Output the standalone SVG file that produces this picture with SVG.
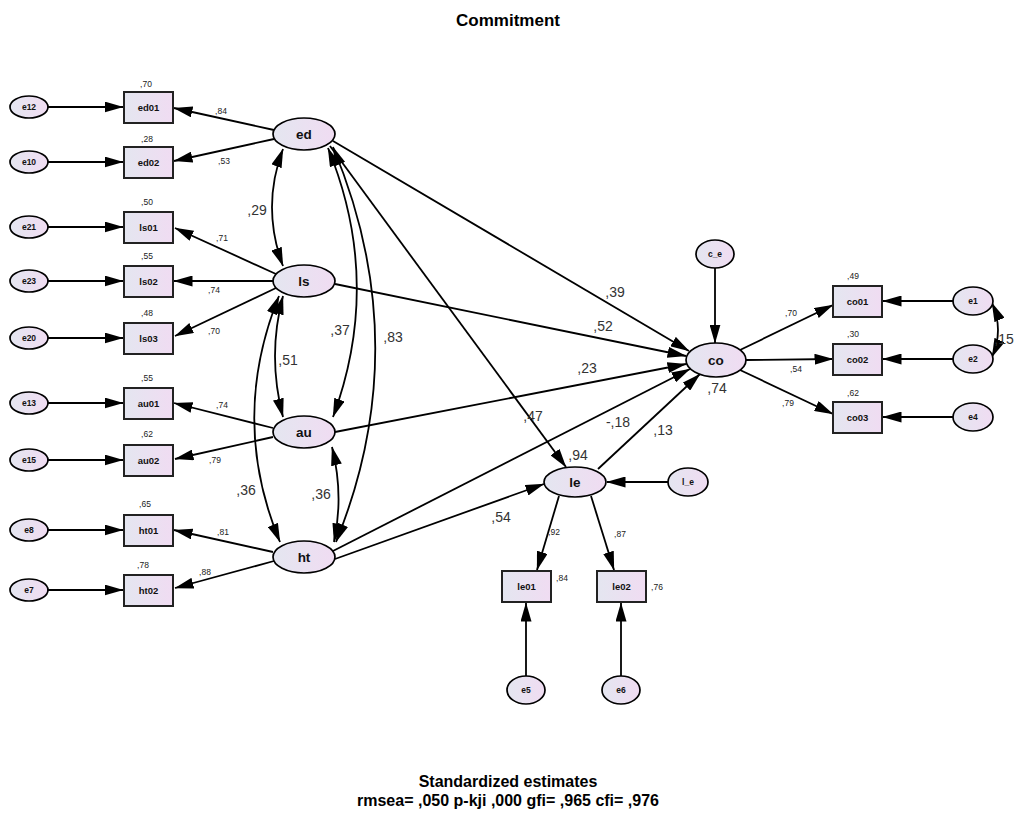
<svg xmlns="http://www.w3.org/2000/svg" width="1016" height="819" viewBox="0 0 1016 819">
<defs>
<linearGradient id="g" x1="0" y1="0" x2="1" y2="0">
<stop offset="0" stop-color="#e4e6f0"/>
<stop offset="1" stop-color="#f0dcf2"/>
</linearGradient>
<marker id="a" markerUnits="userSpaceOnUse" markerWidth="19" markerHeight="11" refX="18.5" refY="5.5" orient="auto-start-reverse">
<path d="M0,0 L19,5.5 L0,11 z" fill="#000"/>
</marker>
<style>
.n ellipse{fill:url(#g);stroke:#000;stroke-width:1.7}
.n rect{fill:url(#g);stroke:#222;stroke-width:2}
.n text{font-family:"Liberation Sans",Arial,sans-serif;font-weight:bold;text-anchor:middle;fill:#111}
.e text{font-size:8.5px}
.b text{font-size:9.5px}
.l text{font-size:13.5px}
#conn path,#conn line{fill:none;stroke:#000;stroke-width:1.8;marker-end:url(#a)}
#conn .d{marker-start:url(#a)}
.s{font-family:"Liberation Sans",Arial,sans-serif;font-size:8.5px;fill:#222;text-anchor:middle}
.p{font-family:"Liberation Sans",Arial,sans-serif;font-size:14px;fill:#333;text-anchor:middle}
.t{font-family:"Liberation Sans",Arial,sans-serif;font-weight:bold;text-anchor:middle;fill:#000}
</style>
</defs>
<rect width="1016" height="819" fill="#fff"/>
<text class="t" x="508" y="26" font-size="17">Commitment</text>
<text class="t" x="508" y="787" font-size="16">Standardized estimates</text>
<text class="t" x="508" y="806" font-size="16">rmsea= ,050 p-kji ,000 gfi= ,965 cfi= ,976</text>

<g id="conn">
<line x1="48" y1="107" x2="123" y2="107"/>
<line x1="48" y1="162" x2="123" y2="162"/>
<line x1="48" y1="227" x2="123" y2="227"/>
<line x1="48" y1="281" x2="123" y2="281"/>
<line x1="48" y1="338" x2="123" y2="338"/>
<line x1="48" y1="403" x2="123" y2="403"/>
<line x1="48" y1="460" x2="123" y2="460"/>
<line x1="48" y1="530" x2="123" y2="530"/>
<line x1="48" y1="590" x2="123" y2="590"/>
<line x1="274" y1="130" x2="174" y2="108"/>
<line x1="274" y1="139" x2="174" y2="161"/>
<line x1="276" y1="274" x2="175" y2="228"/>
<line x1="273" y1="281" x2="174" y2="281"/>
<line x1="276" y1="288" x2="175" y2="336"/>
<line x1="273" y1="428" x2="174" y2="403"/>
<line x1="273" y1="437" x2="175" y2="459"/>
<line x1="273" y1="552" x2="174" y2="530"/>
<line x1="274" y1="561" x2="175" y2="588"/>
<path class="d" d="M283,149 Q261,207 283,266"/>
<path class="d" d="M283,296 Q267,356 283,417"/>
<path class="d" d="M279,296 Q229,420 280,542"/>
<path class="d" d="M332,447 Q344,495 334,542"/>
<path class="d" d="M328,148 Q383,282 333,417"/>
<path class="d" d="M333,147 Q416,345 336,542"/>
<line x1="333" y1="141" x2="689" y2="351"/>
<line x1="335" y1="284" x2="686" y2="356"/>
<line x1="335" y1="432" x2="686" y2="364"/>
<line x1="331" y1="552" x2="690" y2="369"/>
<line x1="598" y1="469" x2="700" y2="374"/>
<line x1="330" y1="146" x2="566" y2="467"/>
<line x1="335" y1="559" x2="544" y2="484"/>
<line x1="715" y1="268" x2="715" y2="343"/>
<line x1="668" y1="482" x2="607" y2="482"/>
<line x1="740" y1="350" x2="833" y2="305"/>
<line x1="746" y1="360" x2="833" y2="359"/>
<line x1="740" y1="370" x2="833" y2="414"/>
<line x1="953" y1="301" x2="883" y2="301"/>
<line x1="953" y1="359" x2="883" y2="359"/>
<line x1="953" y1="417" x2="883" y2="417"/>
<path class="d" d="M992,303 Q1004,330 992,357"/>
<line x1="559" y1="496" x2="537" y2="570"/>
<line x1="591" y1="496" x2="614" y2="570"/>
<line x1="526" y1="676" x2="526" y2="603"/>
<line x1="621" y1="676" x2="621" y2="603"/>
</g>

<g id="e12" class="n e"><ellipse cx="29" cy="107" rx="19" ry="11"/><text x="29" y="110">e12</text></g>
<g id="e10" class="n e"><ellipse cx="29" cy="162" rx="19" ry="11"/><text x="29" y="165">e10</text></g>
<g id="e21" class="n e"><ellipse cx="29" cy="227" rx="19" ry="11"/><text x="29" y="230">e21</text></g>
<g id="e23" class="n e"><ellipse cx="29" cy="281" rx="19" ry="11"/><text x="29" y="284">e23</text></g>
<g id="e20" class="n e"><ellipse cx="29" cy="338" rx="19" ry="11"/><text x="29" y="341">e20</text></g>
<g id="e13" class="n e"><ellipse cx="29" cy="403" rx="19" ry="11"/><text x="29" y="406">e13</text></g>
<g id="e15" class="n e"><ellipse cx="29" cy="460" rx="19" ry="11"/><text x="29" y="463">e15</text></g>
<g id="e8" class="n e"><ellipse cx="29" cy="530" rx="19" ry="11"/><text x="29" y="533">e8</text></g>
<g id="e7" class="n e"><ellipse cx="29" cy="590" rx="19" ry="11"/><text x="29" y="593">e7</text></g>

<g id="ed01" class="n b"><rect x="124" y="92" width="49" height="31"/><text x="148.5" y="110.5">ed01</text></g>
<g id="ed02" class="n b"><rect x="124" y="147" width="49" height="31"/><text x="148.5" y="165.5">ed02</text></g>
<g id="ls01" class="n b"><rect x="124" y="212" width="49" height="31"/><text x="148.5" y="230.5">ls01</text></g>
<g id="ls02" class="n b"><rect x="124" y="266" width="49" height="31"/><text x="148.5" y="284.5">ls02</text></g>
<g id="ls03" class="n b"><rect x="124" y="323" width="49" height="31"/><text x="148.5" y="341.5">ls03</text></g>
<g id="au01" class="n b"><rect x="124" y="388" width="49" height="31"/><text x="148.5" y="406.5">au01</text></g>
<g id="au02" class="n b"><rect x="124" y="445" width="49" height="31"/><text x="148.5" y="463.5">au02</text></g>
<g id="ht01" class="n b"><rect x="124" y="515" width="49" height="31"/><text x="148.5" y="533.5">ht01</text></g>
<g id="ht02" class="n b"><rect x="124" y="575" width="49" height="31"/><text x="148.5" y="593.5">ht02</text></g>

<g id="ed" class="n l"><ellipse cx="304" cy="134" rx="31" ry="16"/><text x="304" y="139">ed</text></g>
<g id="ls" class="n l"><ellipse cx="304" cy="281" rx="31" ry="16"/><text x="304" y="286">ls</text></g>
<g id="au" class="n l"><ellipse cx="304" cy="432" rx="31" ry="16"/><text x="304" y="437">au</text></g>
<g id="ht" class="n l"><ellipse cx="304" cy="557" rx="31" ry="16"/><text x="304" y="562">ht</text></g>
<g id="co" class="n l"><ellipse cx="716" cy="360" rx="30" ry="17"/><text x="716" y="365">co</text></g>
<g id="le" class="n l"><ellipse cx="575" cy="482" rx="31" ry="15"/><text x="575" y="487">le</text></g>

<g id="c_e" class="n e"><ellipse cx="715" cy="254" rx="19" ry="14"/><text x="715" y="257">c_e</text></g>
<g id="l_e" class="n e"><ellipse cx="688" cy="482" rx="20" ry="14"/><text x="688" y="485">l_e</text></g>
<g id="e1" class="n e"><ellipse cx="973" cy="301" rx="20" ry="14"/><text x="973" y="304">e1</text></g>
<g id="e2" class="n e"><ellipse cx="973" cy="359" rx="20" ry="14"/><text x="973" y="362">e2</text></g>
<g id="e4" class="n e"><ellipse cx="973" cy="417" rx="20" ry="14"/><text x="973" y="420">e4</text></g>
<g id="e5" class="n e"><ellipse cx="526" cy="690" rx="19" ry="14"/><text x="526" y="693">e5</text></g>
<g id="e6" class="n e"><ellipse cx="621" cy="690" rx="19" ry="14"/><text x="621" y="693">e6</text></g>

<g id="co01" class="n b"><rect x="833" y="286" width="49" height="31"/><text x="857.5" y="304.5">co01</text></g>
<g id="co02" class="n b"><rect x="833" y="344" width="49" height="31"/><text x="857.5" y="362.5">co02</text></g>
<g id="co03" class="n b"><rect x="833" y="402" width="49" height="31"/><text x="857.5" y="420.5">co03</text></g>
<g id="le01" class="n b"><rect x="502" y="571" width="49" height="31"/><text x="526.5" y="589.5">le01</text></g>
<g id="le02" class="n b"><rect x="597" y="571" width="49" height="31"/><text x="621.5" y="589.5">le02</text></g>

<g id="labels">
<text class="s" x="146" y="87">,70</text>
<text class="s" x="221" y="114">,84</text>
<text class="s" x="224" y="164">,53</text>
<text class="s" x="147" y="142">,28</text>
<text class="s" x="147" y="205">,50</text>
<text class="s" x="222" y="241">,71</text>
<text class="s" x="147" y="259">,55</text>
<text class="s" x="214" y="293">,74</text>
<text class="s" x="147" y="316">,48</text>
<text class="s" x="214" y="334">,70</text>
<text class="s" x="147" y="381">,55</text>
<text class="s" x="222" y="408">,74</text>
<text class="s" x="147" y="437">,62</text>
<text class="s" x="215" y="463">,79</text>
<text class="s" x="145" y="507">,65</text>
<text class="s" x="223" y="535">,81</text>
<text class="s" x="143" y="568">,78</text>
<text class="s" x="205" y="575">,88</text>
<text class="s" x="853" y="279">,49</text>
<text class="s" x="791" y="316">,70</text>
<text class="s" x="853" y="337">,30</text>
<text class="s" x="796" y="372">,54</text>
<text class="s" x="853" y="396">,62</text>
<text class="s" x="788" y="406">,79</text>
<text class="s" x="554" y="535">,92</text>
<text class="s" x="620" y="537">,87</text>
<text class="s" x="562" y="581">,84</text>
<text class="s" x="657" y="590">,76</text>
<text class="p" x="257" y="215">,29</text>
<text class="p" x="340" y="335">,37</text>
<text class="p" x="393" y="342">,83</text>
<text class="p" x="288" y="365">,51</text>
<text class="p" x="246" y="495">,36</text>
<text class="p" x="321" y="499">,36</text>
<text class="p" x="615" y="297">,39</text>
<text class="p" x="603" y="331">,52</text>
<text class="p" x="587" y="373">,23</text>
<text class="p" x="533" y="421">,47</text>
<text class="p" x="618" y="427">-,18</text>
<text class="p" x="663" y="435">,13</text>
<text class="p" x="578" y="460">,94</text>
<text class="p" x="717" y="393">,74</text>
<text class="p" x="501" y="522">,54</text>
<text class="p" x="1004" y="344" text-anchor="start">,15</text>
</g>
</svg>
